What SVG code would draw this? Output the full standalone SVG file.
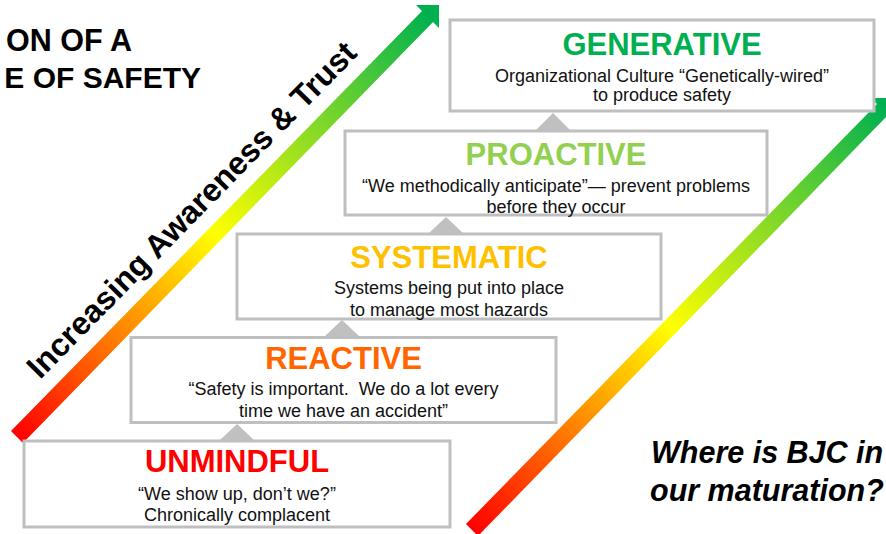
<svg xmlns="http://www.w3.org/2000/svg" xmlns:xlink="http://www.w3.org/1999/xlink" width="886" height="534" viewBox="0 0 886 534">
  <style>
    .box { fill: #ffffff; stroke: #bfbfbf; stroke-width: 3; }
    .tri { fill: #c0c0c0; }
    .title { font-family: "Liberation Sans", Arial, sans-serif; font-weight: bold; font-size: 31px; text-anchor: middle; }
    .desc { font-family: "Liberation Sans", Arial, sans-serif; font-size: 18px; fill: #111111; text-anchor: middle; white-space: pre; }
    .head { font-family: "Liberation Sans", Arial, sans-serif; font-weight: bold; font-size: 30.5px; fill: #000000; text-anchor: end; }
    .ask { font-family: "Liberation Sans", Arial, sans-serif; font-weight: bold; font-style: italic; font-size: 30.5px; fill: #000000; }
    .axis { font-family: "Liberation Sans", Arial, sans-serif; font-weight: bold; font-size: 32px; fill: #000000; }
  </style>
  <defs>
    <linearGradient id="ramp" gradientUnits="userSpaceOnUse" x1="17" y1="437" x2="430" y2="15">
      <stop offset="0" stop-color="#ff0000"/>
      <stop offset="0.48" stop-color="#ffff00"/>
      <stop offset="1" stop-color="#00b050"/>
    </linearGradient>
    <polygon id="rampArrow" points="11,431 422,11 416,5 439,5 439,28 433,22 23,443" fill="url(#ramp)"/>
  </defs>

  <!-- heading, set against the left edge -->
  <text class="head" x="132" y="51">ON OF A</text>
  <text class="head" x="201" y="88" style="font-size:30px">E OF SAFETY</text>

  <!-- gradient arrows -->
  <g id="arrow-awareness">
    <use xlink:href="#rampArrow"/>
    <text class="axis" transform="translate(40,380) rotate(-45.6)">Increasing Awareness &amp; Trust</text>
  </g>
  <g id="arrow-maturation">
    <use xlink:href="#rampArrow" transform="translate(455,93)"/>
  </g>

  <!-- step connectors -->
  <g id="connectors">
    <polygon class="tri" points="237,424 255,441 219,441"/>
    <polygon class="tri" points="342,320 360,337 324,337"/>
    <polygon class="tri" points="446,217 464,234 428,234"/>
    <polygon class="tri" points="553,113 571,131 535,131"/>
  </g>

  <g id="unmindful">
    <rect class="box" x="24" y="441" width="426" height="86"/>
    <text class="title" x="237" y="472" fill="#ff0000">UNMINDFUL</text>
    <text class="desc" x="237" y="500">“We show up, don’t we?”</text>
    <text class="desc" x="237" y="521">Chronically complacent</text>
  </g>

  <g id="reactive">
    <rect class="box" x="131" y="337.5" width="425" height="85"/>
    <text class="title" x="343.5" y="369" fill="#ff6600">REACTIVE</text>
    <text class="desc" x="343.5" y="395">“Safety is important.  We do a lot every</text>
    <text class="desc" x="343.5" y="417">time we have an accident”</text>
  </g>

  <g id="systematic">
    <rect class="box" x="237" y="234" width="424" height="85"/>
    <text class="title" x="449" y="268" fill="#ffc000">SYSTEMATIC</text>
    <text class="desc" x="449" y="294">Systems being put into place</text>
    <text class="desc" x="449" y="316">to manage most hazards</text>
  </g>

  <g id="proactive">
    <rect class="box" x="345" y="131" width="422" height="84"/>
    <text class="title" x="556" y="165" fill="#92d050">PROACTIVE</text>
    <text class="desc" x="556" y="192">“We methodically anticipate”— prevent problems</text>
    <text class="desc" x="556" y="213">before they occur</text>
  </g>

  <g id="generative">
    <rect class="box" x="450" y="20" width="424" height="91"/>
    <text class="title" x="662" y="55" fill="#00b050">GENERATIVE</text>
    <text class="desc" x="662" y="82">Organizational Culture “Genetically-wired”</text>
    <text class="desc" x="662" y="101">to produce safety</text>
  </g>

  <!-- closing question -->
  <text class="ask" x="651" y="463">Where is BJC in</text>
  <text class="ask" x="650" y="501">our maturation?</text>
</svg>
